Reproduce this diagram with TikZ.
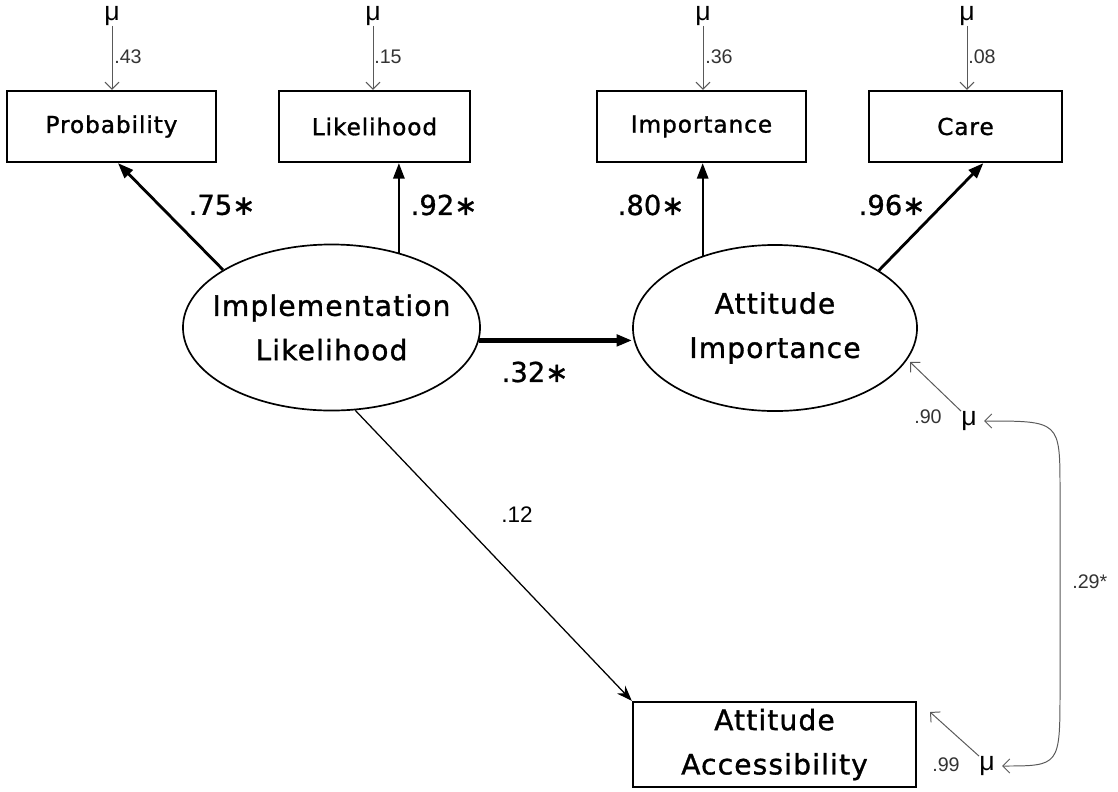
\documentclass[tikz,border=0pt]{standalone}
\usepackage{fontspec}
\setmainfont{DejaVu Sans}
\newfontfamily\boxfont{DejaVu Sans}[LetterSpace=4,FakeBold=1.2]
\newfontfamily\coeffont{DejaVu Sans}[FakeBold=1]
\newfontfamily\numfont{Liberation Sans}
\usetikzlibrary{arrows.meta,shapes.geometric}

\begin{document}
\begin{tikzpicture}[x=0.025cm,y=-0.025cm,
  obs/.style={draw,line width=1.6pt,inner sep=0pt,minimum height=1.775cm,
    align=center,font=\boxfont\fontsize{16.5}{27}\selectfont},
  lat/.style={draw,ellipse,line width=1.2pt,inner xsep=-16pt,inner ysep=0pt,minimum height=4.15cm,
    align=center,font=\boxfont\fontsize{20}{31.5}\selectfont},
  err/.style={inner sep=0pt,font=\numfont\fontsize{19}{19}\selectfont},
  load/.style={line width=1.6pt,-{Triangle[length=11pt,width=8pt]}},
  resid/.style={draw=black!65,line width=0.7pt,-{Straight Barb[length=5pt,width=10pt]}},
  coef/.style={inner sep=0pt,font=\coeffont\fontsize{19.5}{19.5}\selectfont},
  small/.style={inner sep=0pt,text=black!80,font=\numfont\fontsize{14}{14}\selectfont}]
\useasboundingbox (0,0) rectangle (1118,791);

% indicators
\node (prob) at (111.5,126.5) [obs,minimum width=5.225cm] {Probability};
\node (lik) at (374.5,126.5) [obs,minimum width=4.775cm] {Likelihood};
\node (imp) at (701.5,126.5) [obs,minimum width=5.225cm] {Importance};
\node (care) at (965.5,126.5) [obs,minimum width=4.825cm] {Care};

% latent variables
\node (impl) at (331.5,327.5) [lat,minimum width=7.425cm] {Implementation\\Likelihood};
\node (att) at (775,328) [lat,minimum width=7.1cm] {Attitude\\Importance};
\node (acc) at (774.5,744.5) [obs,minimum width=7.075cm,minimum height=2.125cm,
  font=\boxfont\fontsize{20}{31.5}\selectfont] {Attitude\\Accessibility};

% error terms
\node (mu1) at (112,6) [err,anchor=north] {μ};
\node (mu2) at (373,6) [err,anchor=north] {μ};
\node (mu3) at (703,6) [err,anchor=north] {μ};
\node (mu4) at (967,6) [err,anchor=north] {μ};
\node (mu5) at (969,421) [err] {μ};
\node (mu6) at (987,766) [err] {μ};
\coordinate (tip5) at (910,362);
\coordinate (tip6) at (930,712);

\draw[resid] (mu1) -- (mu1 |- prob.north);
\draw[resid] (mu2) -- (mu2 |- lik.north);
\draw[resid] (mu3) -- (mu3 |- imp.north);
\draw[resid] (mu4) -- (mu4 |- care.north);
\draw[resid] (mu5.north west) -- (tip5);
\draw[resid] (mu6.north west) -- (tip6);
\draw[resid,{Straight Barb[length=5pt,width=10pt]}-{Straight Barb[length=5pt,width=10pt]}]
  ([xshift=5pt]mu5.east) .. controls (1060,421) .. (1060,490) -- (1060,690)
  .. controls (1060,766) .. ([xshift=5pt]mu6.east);

\node at (128,57) [small] {.43};
\node at (388,57) [small] {.15};
\node at (719,57) [small] {.36};
\node at (982,57) [small] {.08};
\node at (928,417) [small] {.90};
\node at (946,765) [small] {.99};
\node at (1072,582) [small,anchor=west] {.29*};

% paths
\draw[load,line width=2pt] (impl.152) -- (prob.-80);
\draw[load] (impl.48.5) -- (impl.48.5 |- lik.south);
\draw[load] (att.135.6) -- (att.135.6 |- imp.south);
\draw[load,line width=2pt] (att.29) -- (care.-64);
\draw[load,line width=3pt] (impl.-5.7) -- (impl.-5.7 -| att.west);
\draw[line width=0.9pt,-{Stealth[length=11pt,width=8pt]}] (impl.-74) -- (acc.north west);

\node at (222,205) [coef] {.75∗};
\node at (444,205) [coef] {.92∗};
\node at (651,205) [coef] {.80∗};
\node at (892,205) [coef] {.96∗};
\node at (535,372) [coef] {.32∗};
\node at (517,515) [small,text=black,font=\numfont\fontsize{16}{16}\selectfont] {.12};
\end{tikzpicture}
\end{document}
